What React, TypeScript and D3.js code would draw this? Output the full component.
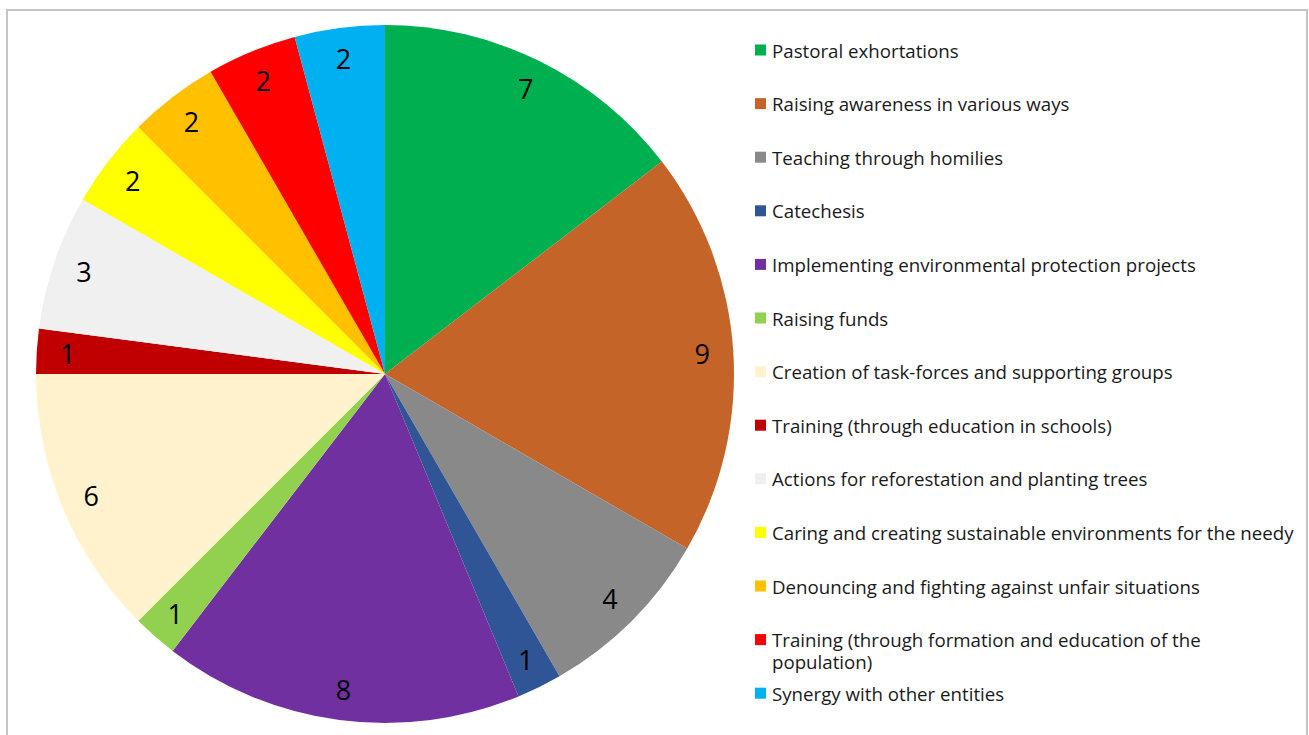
import React from "react";
import * as d3 from "d3";

const categories: string[] = [
  "Pastoral exhortations",
  "Raising awareness in various ways",
  "Teaching through homilies",
  "Catechesis",
  "Implementing environmental protection projects",
  "Raising funds",
  "Creation of task-forces and supporting groups",
  "Training (through education in schools)",
  "Actions for reforestation and planting trees",
  "Caring and creating sustainable environments for the needy",
  "Denouncing and fighting against unfair situations",
  "Training (through formation and education of the population)",
  "Synergy with other entities",
];

const values: number[] = [7, 9, 4, 1, 8, 1, 6, 1, 3, 2, 2, 2, 2];

const colors: string[] = [
  "#00B050",
  "#C46428",
  "#898989",
  "#2F5597",
  "#7030A0",
  "#92D050",
  "#FFF2CC",
  "#C00000",
  "#F0F0F0",
  "#FFFF00",
  "#FFC000",
  "#FF0000",
  "#00B0F0",
];

const FONT = "'Open Sans', 'Noto Sans', sans-serif";

function wrapLabel(text: string, maxChars: number): string[] {
  const words = text.split(" ");
  const lines: string[] = [];
  let cur = "";
  for (const w of words) {
    const t = cur ? cur + " " + w : w;
    if (t.length > maxChars && cur) {
      lines.push(cur);
      cur = w;
    } else cur = t;
  }
  if (cur) lines.push(cur);
  return lines;
}

export default function App() {
  const W = 1309;
  const H = 735;
  const cx = 385;
  const cy = 374;
  const R = 349;
  const labelR = 318;

  const pie = d3
    .pie<number>()
    .sort(null)
    .value((d) => d)
    .startAngle(0)
    .endAngle(2 * Math.PI);
  const arcs = pie(values);
  const arc = d3.arc<d3.PieArcDatum<number>>().innerRadius(0).outerRadius(R);
  const labelArc = d3
    .arc<d3.PieArcDatum<number>>()
    .innerRadius(labelR)
    .outerRadius(labelR);

  const legendY = d3
    .scaleLinear()
    .domain([0, categories.length - 1])
    .range([50, 50 + 53.6 * (categories.length - 1)]);

  return (
    <div style={{ position: "fixed", left: 0, top: 0 }}>
      <svg width={W} height={H} style={{ display: "block", background: "#fff" }}>
        <rect x={7} y={10} width={1300} height={H + 20} fill="#fff" stroke="#C4C4C4" strokeWidth={2} />
        <g transform={`translate(${cx},${cy})`}>
          {arcs.map((a, i) => (
            <path key={i} d={arc(a) || ""} fill={colors[i]} />
          ))}
          {arcs.map((a, i) => {
            const [x, y] = labelArc.centroid(a);
            return (
              <text
                key={"l" + i}
                x={x}
                y={y}
                textAnchor="middle"
                dominantBaseline="central"
                fontFamily={FONT}
                fontSize={27}
                fill="#000"
              >
                {values[i]}
              </text>
            );
          })}
        </g>
        <g>
          {categories.map((c, i) => {
            const y = legendY(i);
            const lines = c.length > 55 && c.startsWith("Training (through formation") ? wrapLabel(c, 50) : [c];
            return (
              <g key={"lg" + i}>
                <rect x={755} y={y - 5.5} width={11} height={11} fill={colors[i]} />
                {lines.map((ln, j) => (
                  <text
                    key={j}
                    x={772}
                    y={y + j * 21.5}
                    dominantBaseline="central"
                    fontFamily={FONT}
                    fontSize={18.7}
                    fill="#1a1a1a"
                  >
                    {ln}
                  </text>
                ))}
              </g>
            );
          })}
        </g>
      </svg>
    </div>
  );
}
